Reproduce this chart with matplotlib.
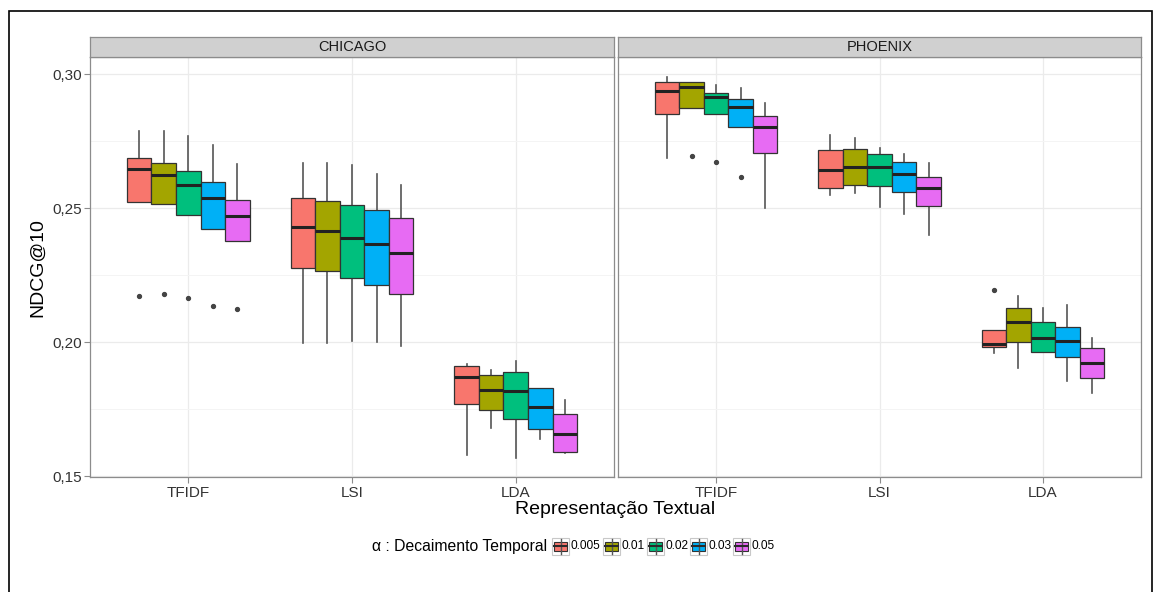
import numpy as np
import matplotlib
matplotlib.use('Agg')
import matplotlib.pyplot as plt
from matplotlib.patches import Rectangle
from matplotlib.lines import Line2D
from matplotlib.ticker import FixedLocator, FuncFormatter

plt.rcParams['font.family'] = ['Liberation Sans', 'DejaVu Sans']

## Data (rows: TFIDF, LSI, LDA; cols: alpha values)
#
representations = ['TFIDF', 'LSI', 'LDA']
alphas = ['0.005', '0.01', '0.02', '0.03', '0.05']
cities = ['CHICAGO', 'PHOENIX']
colors = ['#F8766D', '#A3A500', '#00BF7D', '#00B0F6', '#E76BF3']

chicago_whishi = [[0.2788, 0.2788, 0.2769, 0.2734, 0.2666],
                  [0.2668, 0.2670, 0.2662, 0.2627, 0.2587],
                  [0.1919, 0.1897, 0.1931, 0.1828, 0.1785]]
chicago_q3 = [[0.2688, 0.2667, 0.2637, 0.2599, 0.2529],
              [0.2537, 0.2525, 0.2512, 0.2494, 0.2465],
              [0.1912, 0.1878, 0.1890, 0.1828, 0.1732]]
chicago_med = [[0.2647, 0.2625, 0.2587, 0.2538, 0.2472],
               [0.2431, 0.2416, 0.2388, 0.2366, 0.2334],
               [0.1869, 0.1822, 0.1819, 0.1760, 0.1658]]
chicago_q1 = [[0.2523, 0.2516, 0.2475, 0.2422, 0.2376],
              [0.2278, 0.2266, 0.2239, 0.2214, 0.2180],
              [0.1769, 0.1747, 0.1713, 0.1675, 0.1592]]
chicago_whislo = [[0.2523, 0.2516, 0.2475, 0.2422, 0.2376],
                  [0.1996, 0.1996, 0.2005, 0.2002, 0.1986],
                  [0.1580, 0.1679, 0.1567, 0.1638, 0.1586]]
chicago_fliers = [[[0.2174], [0.2181], [0.2165], [0.2135], [0.2125]],
                  [[], [], [], [], []],
                  [[], [], [], [], []]]

phoenix_whishi = [[0.2991, 0.2972, 0.2960, 0.2950, 0.2894],
                  [0.2774, 0.2761, 0.2725, 0.2703, 0.2670],
                  [0.2046, 0.2174, 0.2129, 0.2139, 0.2015]]
phoenix_q3 = [[0.2972, 0.2972, 0.2931, 0.2907, 0.2844],
              [0.2718, 0.2721, 0.2701, 0.2674, 0.2615],
              [0.2046, 0.2129, 0.2077, 0.2058, 0.1978]]
phoenix_med = [[0.2938, 0.2954, 0.2916, 0.2879, 0.2802],
               [0.2643, 0.2653, 0.2655, 0.2628, 0.2575],
               [0.1993, 0.2077, 0.2015, 0.2005, 0.1924]]
phoenix_q1 = [[0.2851, 0.2875, 0.2851, 0.2802, 0.2707],
              [0.2575, 0.2587, 0.2583, 0.2560, 0.2510],
              [0.1984, 0.2002, 0.1965, 0.1944, 0.1866]]
phoenix_whislo = [[0.2687, 0.2875, 0.2851, 0.2802, 0.2500],
                  [0.2550, 0.2556, 0.2504, 0.2478, 0.2400],
                  [0.1961, 0.1903, 0.1965, 0.1856, 0.1810]]
phoenix_fliers = [[[], [0.2695], [0.2674], [0.2618], []],
                  [[], [], [], [], []],
                  [[0.2193], [], [], [], []]]

city_stats = {
    'CHICAGO': (chicago_whislo, chicago_q1, chicago_med, chicago_q3, chicago_whishi, chicago_fliers),
    'PHOENIX': (phoenix_whislo, phoenix_q1, phoenix_med, phoenix_q3, phoenix_whishi, phoenix_fliers),
}

W, H = 1162, 592
fig = plt.figure(figsize=(W / 100, H / 100), dpi=100)
fig.patch.set_facecolor('white')


def fx(px):
    return px / W


def fy(py):
    return (H - py) / H


## outer frame of the screenshot (bottom edge falls outside the picture)
fig.patches.append(Rectangle((fx(9), fy(600)), fx(1152) - fx(9), fy(10.5) - fy(600),
                             transform=fig.transFigure, fill=False, edgecolor='black', lw=1.2))

panel_top, panel_bot = 57.3, 477.3
strip_h = 20
panels_x = [(90, 614), (618, 1141)]
ylim = (0.1496, 0.3063)
box_w = 0.15
offsets = (np.arange(len(alphas)) - 2) * box_w
grid_major = '#EBEBEB'
grid_minor = '#F4F4F4'
border = '#8C8C8C'
txt = '#333333'

for i, city in enumerate(cities):
    x0, x1 = panels_x[i]
    ax = fig.add_axes([fx(x0), fy(panel_bot), fx(x1) - fx(x0), fy(panel_top) - fy(panel_bot)])
    ax.set_xlim(0.4, len(representations) + 0.6)
    ax.set_ylim(*ylim)
    ax.yaxis.set_major_locator(FixedLocator([0.15, 0.20, 0.25, 0.30]))
    ax.yaxis.set_minor_locator(FixedLocator([0.175, 0.225, 0.275]))
    ax.yaxis.set_major_formatter(FuncFormatter(lambda v, p: ('%.2f' % v).replace('.', ',')))
    ax.set_xticks(np.arange(1, len(representations) + 1))
    ax.set_xticklabels(representations)
    ax.grid(True, which='major', color=grid_major, lw=0.9, zorder=0)
    ax.grid(True, which='minor', axis='y', color=grid_minor, lw=0.7, zorder=0)
    ax.set_axisbelow(True)
    for s in ax.spines.values():
        s.set_color(border)
        s.set_linewidth(0.9)
    ax.tick_params(axis='both', which='major', length=4, width=0.8, color=border,
                   labelsize=11, labelcolor=txt, pad=2)
    ax.tick_params(axis='y', which='minor', length=0)
    if i > 0:
        ax.tick_params(axis='y', which='major', length=0, labelleft=False)

    wlo, q1, med, q3, whi, fl = city_stats[city]
    for r in range(len(representations)):
        for a in range(len(alphas)):
            st = [dict(whislo=wlo[r][a], q1=q1[r][a], med=med[r][a], q3=q3[r][a],
                       whishi=whi[r][a], fliers=fl[r][a])]
            res = ax.bxp(st, positions=[r + 1 + offsets[a]], widths=box_w, patch_artist=True,
                         showcaps=False, manage_ticks=False,
                         boxprops=dict(facecolor=colors[a], edgecolor='#333333', lw=0.9),
                         medianprops=dict(color='#222222', lw=2.2, solid_capstyle='butt'),
                         whiskerprops=dict(color='#555555', lw=1.2),
                         flierprops=dict(marker='o', markersize=2.8, markerfacecolor='#444444',
                                         markeredgecolor='#444444'))
            for w in res['whiskers']:
                w.set_zorder(1.5)

    ## facet strip
    sax = fig.add_axes([fx(x0), fy(panel_top), fx(x1) - fx(x0), fy(panel_top - strip_h) - fy(panel_top)])
    sax.set_facecolor('#D0D0D0')
    sax.set_xticks([])
    sax.set_yticks([])
    for s in sax.spines.values():
        s.set_color(border)
        s.set_linewidth(0.9)
    sax.text(0.5, 0.5, city, ha='center', va='center', fontsize=10.5, color='#1A1A1A',
             transform=sax.transAxes)

## axis titles
fig.text(fx(38), fy((panel_top + panel_bot) / 2), 'NDCG@10', rotation=90, ha='center', va='center',
         fontsize=14, color='black')
fig.text(fx(615), fy(510), 'Representação Textual', ha='center', va='center', fontsize=14, color='black')

## legend (row at bottom)
leg_y = 546
fig.text(fx(372), fy(leg_y), 'α : Decaimento Temporal', ha='left', va='center', fontsize=11.3, color='black')
key_left = [552, 603, 647, 690, 733]
key = 17
for a, lab in enumerate(alphas):
    kx = key_left[a]
    fig.patches.append(Rectangle((fx(kx), fy(leg_y + key / 2)), fx(key), key / H, transform=fig.transFigure,
                                 facecolor='white', edgecolor='#C8C8C8', lw=0.8))
    cx = kx + key / 2
    fig.lines.append(Line2D([fx(cx), fx(cx)], [fy(leg_y + key / 2 - 1), fy(leg_y - key / 2 + 1)],
                            transform=fig.transFigure, color='#555555', lw=1.0))
    fig.patches.append(Rectangle((fx(kx + 2), fy(leg_y + 4.5)), fx(key - 4), 9 / H, transform=fig.transFigure,
                                 facecolor=colors[a], edgecolor='#333333', lw=0.8))
    fig.lines.append(Line2D([fx(kx + 2), fx(kx + key - 2)], [fy(leg_y), fy(leg_y)],
                            transform=fig.transFigure, color='#2A2A2A', lw=1.5))
    fig.text(fx(kx + key + 1.5), fy(leg_y), lab, ha='left', va='center', fontsize=8.6, color='black')

fig.savefig('out.png', dpi=100)
